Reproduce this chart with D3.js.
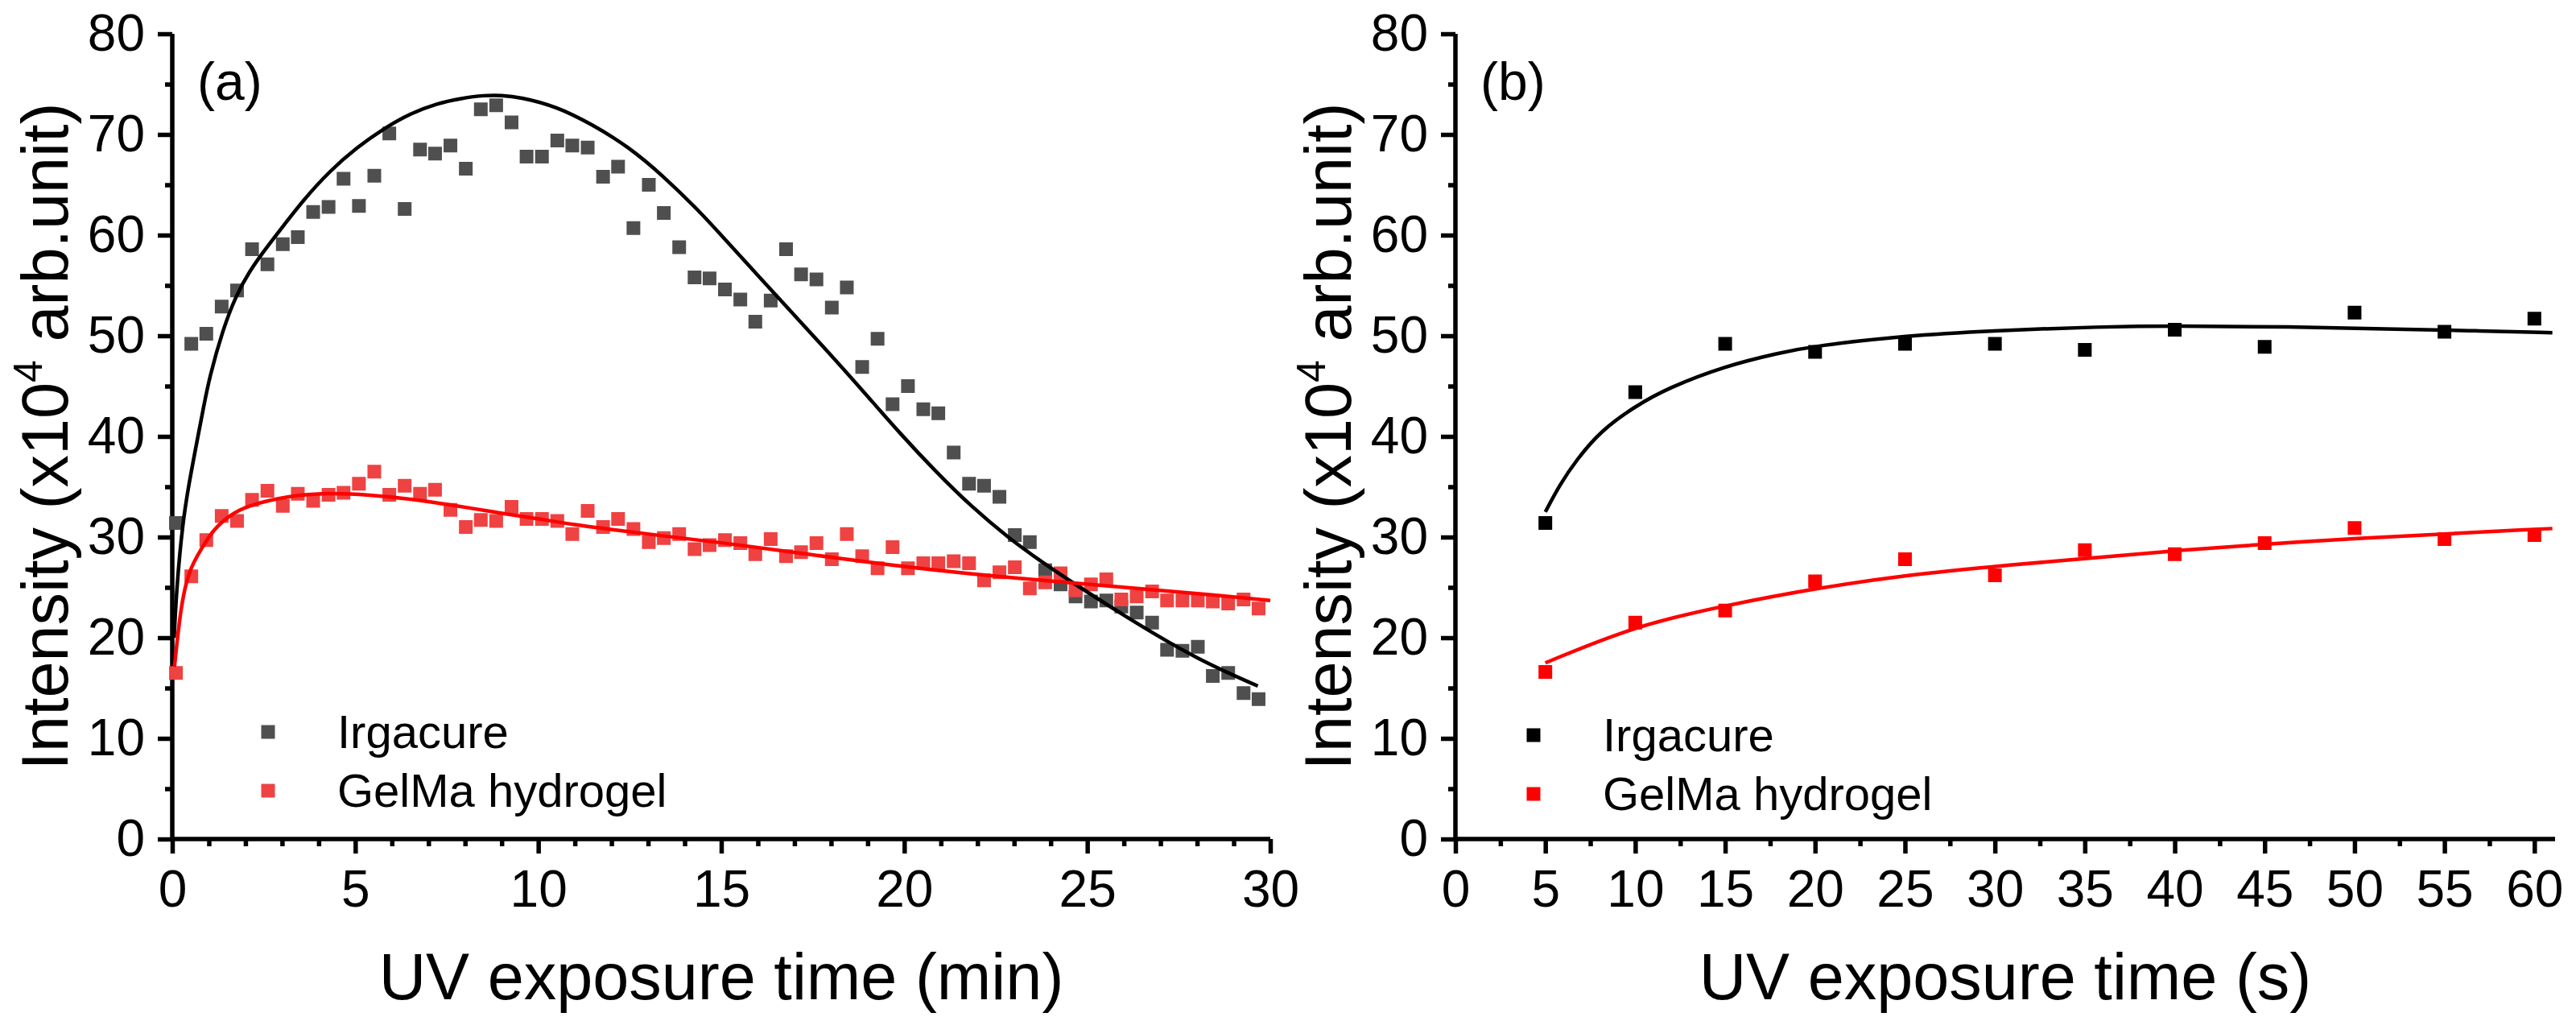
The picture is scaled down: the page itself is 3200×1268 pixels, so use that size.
<!DOCTYPE html>
<html>
<head>
<meta charset="utf-8">
<script src="https://cdn.jsdelivr.net/npm/d3@7"></script>
<style>
  body { margin: 0; background: #fff; }
  text { font-family: "Liberation Sans", Arial, sans-serif; fill: #000; }
</style>
</head>
<body>
<svg id="chart" width="3200" height="1268"></svg>
<script>
/// data ///
// panel (a): UV exposure time in minutes, one reading every 25 s
const timeMin = [
  0.10, 0.52, 0.93, 1.35, 1.77, 2.18, 2.60, 3.02, 3.43, 3.85,
  4.27, 4.68, 5.10, 5.52, 5.93, 6.35, 6.77, 7.18, 7.60, 8.02,
  8.43, 8.85, 9.27, 9.68, 10.10, 10.52, 10.93, 11.35, 11.77, 12.18,
  12.60, 13.02, 13.43, 13.85, 14.27, 14.68, 15.10, 15.52, 15.93, 16.35,
  16.77, 17.18, 17.60, 18.02, 18.43, 18.85, 19.27, 19.68, 20.10, 20.52,
  20.93, 21.35, 21.77, 22.18, 22.60, 23.02, 23.43, 23.85, 24.27, 24.68,
  25.10, 25.52, 25.93, 26.35, 26.77, 27.18, 27.60, 28.02, 28.43, 28.85,
  29.27, 29.68
];
const irgacureA = [
  31.4, 49.2, 50.2, 52.9, 54.5, 58.6, 57.1, 59.1, 59.8, 62.3,
  62.8, 65.6, 62.9, 65.9, 70.1, 62.6, 68.5, 68.1, 68.9, 66.6,
  72.5, 72.9, 71.2, 67.8, 67.8, 69.4, 68.9, 68.7, 65.8, 66.8,
  60.7, 65.0, 62.2, 58.8, 55.8, 55.7, 54.6, 53.6, 51.4, 53.5,
  58.6, 56.1, 55.6, 52.8, 54.8, 46.9, 49.7, 43.2, 45.0, 42.7,
  42.3, 38.4, 35.3, 35.1, 34.0, 30.2, 29.5, 26.7, 25.3, 24.1,
  23.6, 23.7, 23.1, 22.5, 21.5, 18.8, 18.7, 19.1, 16.2, 16.5,
  14.5, 13.9
];
const gelmaA = [
  16.5, 26.1, 29.7, 32.1, 31.6, 33.7, 34.6, 33.1, 34.3, 33.6,
  34.2, 34.4, 35.3, 36.5, 34.2, 35.1, 34.3, 34.7, 32.7, 31.0,
  31.7, 31.6, 33.0, 31.8, 31.8, 31.6, 30.3, 32.6, 31.0, 31.8,
  30.8, 29.5, 29.9, 30.3, 28.8, 29.2, 29.7, 29.4, 28.3, 29.8,
  28.1, 28.5, 29.4, 27.8, 30.3, 28.1, 26.9, 29.0, 26.9, 27.4,
  27.4, 27.6, 27.4, 25.7, 26.5, 27.0, 24.9, 25.5, 26.4, 24.7,
  25.3, 25.8, 23.8, 24.1, 24.6, 23.7, 23.7, 23.7, 23.6, 23.4,
  23.8, 22.9
];
// fitted curves of panel (a)
const irgacureFitAx = [0.05, 0.12, 0.28, 0.45, 0.68, 0.85, 1.01, 1.38, 1.74, 2.11, 2.48, 2.84, 3.58, 4.31, 5.04, 5.78, 6.51, 7.24, 7.9, 8.53, 9.0, 9.51, 10.49, 11.47, 12.46, 13.44, 14.42, 14.97, 15.95, 16.93, 17.92, 18.9, 19.88, 20.86, 21.84, 22.82, 23.8, 24.67, 26.35, 28.04, 29.66];
const irgacureFitAy = [20.0, 25.0, 31.3, 35.2, 39.6, 42.8, 45.8, 50.6, 54.0, 56.4, 58.3, 60.0, 63.5, 66.4, 68.7, 70.6, 72.1, 73.1, 73.6, 73.9, 73.9, 73.7, 72.8, 71.0, 68.8, 65.8, 62.3, 60.1, 56.2, 52.3, 48.4, 44.4, 40.3, 36.5, 33.0, 30.0, 27.4, 25.3, 21.4, 17.8, 15.2];
const gelmaFitAx = [0.06, 0.23, 0.45, 0.79, 1.13, 1.58, 2.03, 3.15, 4.27, 5.39, 6.51, 7.63, 8.75, 9.87, 11.0, 12.12, 13.2, 15.13, 17.37, 19.62, 21.86, 24.1, 26.35, 28.6, 30.0];
const gelmaFitAy = [17.1, 23.1, 26.7, 28.8, 30.8, 32.2, 33.1, 34.1, 34.4, 34.2, 33.8, 33.2, 32.5, 31.9, 31.2, 30.7, 30.2, 29.4, 28.3, 27.2, 26.3, 25.6, 24.9, 24.2, 23.7];

// panel (b): UV exposure time in seconds
const timeSec = [5, 10, 15, 20, 25, 30, 35, 40, 45, 50, 55, 60];
const irgacureB = [31.4, 44.4, 49.2, 48.4, 49.2, 49.2, 48.6, 50.6, 48.9, 52.3, 50.4, 51.7];
const gelmaB = [16.6, 21.5, 22.7, 25.6, 27.8, 26.2, 28.7, 28.3, 29.4, 30.9, 29.8, 30.2];
const irgacureFitBx = [5, 5.8, 6.7, 8.1, 10, 11.8, 15, 18, 20, 25, 29.7, 35.9, 40, 46.3, 52.6, 56.7, 61];
const irgacureFitBy = [32.5, 35.2, 37.6, 40.6, 43.0, 44.8, 47.0, 48.3, 49.0, 50.0, 50.5, 50.9, 51.0, 50.9, 50.65, 50.5, 50.3];
const gelmaFitBx = [5, 10, 15, 20, 25, 30, 40, 50, 61];
const gelmaFitBy = [17.5, 21.2, 23.2, 24.9, 26.2, 27.1, 28.7, 29.9, 30.85];

const seriesNames = ["Irgacure", "GelMa hydrogel"];

/// constants ///
const axisWidth = 5.5;
const majorTick = 18;
const minorTick = 9;
const markerSize = 17;
const fitWidth = 4.5;
const tickFont = 64;
const titleFont = 81;
const legendFont = 58;

const svg = d3.select("#chart");

// shared y scale
const yScale = d3.scaleLinear().domain([0, 80]).range([1042, 42]);

function zip(xs, ys) { return xs.map((x, i) => ({ x: x, y: ys[i] })); }

function drawPanel(p) {
  const xScale = d3.scaleLinear().domain(p.xDomain).range(p.xRange);
  const g = svg.append("g");
  const x0 = p.xRange[0];
  const y0 = yScale.range()[0];

  // minor ticks
  const xMinor = d3.range(p.xDomain[0], p.xDomain[1] + 1e-6, p.minorStep)
    .filter(v => Math.abs(v / p.majorStep - Math.round(v / p.majorStep)) > 1e-6);
  g.append("g")
    .attr("transform", `translate(0,${y0})`)
    .call(d3.axisBottom(xScale).tickValues(xMinor).tickSize(minorTick).tickFormat(""))
    .call(a => a.select(".domain").remove())
    .call(a => a.selectAll("line").attr("stroke", "#000").attr("stroke-width", axisWidth));

  g.append("g")
    .attr("transform", `translate(${x0},0)`)
    .call(d3.axisLeft(yScale).tickValues(d3.range(5, 80, 10)).tickSize(minorTick).tickFormat(""))
    .call(a => a.select(".domain").remove())
    .call(a => a.selectAll("line").attr("stroke", "#000").attr("stroke-width", axisWidth));

  // major ticks with labels
  g.append("g")
    .attr("transform", `translate(0,${y0})`)
    .call(d3.axisBottom(xScale).tickValues(p.majorTicks).tickSize(majorTick).tickPadding(21).tickFormat(d3.format("d")))
    .call(a => a.select(".domain").remove())
    .call(a => a.selectAll("line").attr("stroke", "#000").attr("stroke-width", axisWidth))
    .call(a => a.selectAll("text")
      .attr("font-size", tickFont)
      .style("font-family", '"Liberation Sans", Arial, sans-serif')
      .attr("fill", "#000"));

  g.append("g")
    .attr("transform", `translate(${x0},0)`)
    .call(d3.axisLeft(yScale).tickValues(d3.range(0, 81, 10)).tickSize(majorTick).tickPadding(16).tickFormat(d3.format("d")))
    .call(a => a.select(".domain").remove())
    .call(a => a.selectAll("line").attr("stroke", "#000").attr("stroke-width", axisWidth))
    .call(a => a.selectAll("text")
      .attr("font-size", tickFont)
      .style("font-family", '"Liberation Sans", Arial, sans-serif')
      .attr("fill", "#000"));

  // axis lines
  g.append("path")
    .attr("d", `M${x0},${yScale(80)}V${y0}H${p.xRange[1]}`)
    .attr("fill", "none")
    .attr("stroke", "#000")
    .attr("stroke-width", axisWidth)
    .attr("stroke-linejoin", "miter");

  // markers (black series first, red on top)
  p.markers.forEach(m => {
    g.append("g").selectAll("rect")
      .data(zip(m.x, m.y))
      .join("rect")
        .attr("x", d => xScale(d.x) - markerSize / 2)
        .attr("y", d => yScale(d.y) - markerSize / 2)
        .attr("width", markerSize)
        .attr("height", markerSize)
        .attr("fill", m.color);
  });

  // fitted curves, smoothed through the read-off points
  const line = d3.line()
    .x(d => xScale(d.x))
    .y(d => yScale(d.y))
    .curve(d3.curveBasis);
  p.fits.forEach(f => {
    g.append("path")
      .datum(zip(f.x, f.y))
      .attr("d", line)
      .attr("fill", "none")
      .attr("stroke", f.color)
      .attr("stroke-width", fitWidth)
      .attr("stroke-linejoin", "round");
  });

  // legend
  p.markers.forEach((m, i) => {
    const ly = p.legend.y + i * 73;
    g.append("rect")
      .attr("x", p.legend.x - markerSize / 2)
      .attr("y", ly - markerSize / 2)
      .attr("width", markerSize)
      .attr("height", markerSize)
      .attr("fill", m.color);
    g.append("text")
      .attr("x", p.legend.x + 86)
      .attr("y", ly + 20)
      .attr("font-size", legendFont)
      .text(seriesNames[i]);
  });

  // panel label
  g.append("text")
    .attr("x", x0 + 31)
    .attr("y", 124)
    .attr("font-size", 66)
    .text(p.label);

  // x title
  g.append("text")
    .attr("x", (p.xRange[0] + p.xRange[1]) / 2)
    .attr("y", 1241)
    .attr("text-anchor", "middle")
    .attr("font-size", titleFont)
    .text(p.xTitle);

  // y title
  const yt = g.append("text")
    .attr("transform", `translate(${x0 - 130},${(yScale(0) + yScale(80)) / 2}) rotate(-90)`)
    .attr("text-anchor", "middle")
    .attr("font-size", titleFont);
  yt.append("tspan").text("Intensity (x10");
  yt.append("tspan").attr("font-size", 50).attr("dy", -32).text("4");
  yt.append("tspan").attr("dy", 32).text(" arb.unit)");
}

drawPanel({
  label: "(a)",
  xDomain: [0, 30],
  xRange: [214, 1578],
  majorStep: 5,
  minorStep: 1,
  majorTicks: d3.range(0, 31, 5),
  xTitle: "UV exposure time (min)",
  markers: [
    { x: timeMin, y: irgacureA, color: "#4f4f4f" },
    { x: timeMin, y: gelmaA, color: "#ef4242" }
  ],
  fits: [
    { x: irgacureFitAx, y: irgacureFitAy, color: "#000" },
    { x: gelmaFitAx, y: gelmaFitAy, color: "#ff0000" }
  ],
  legend: { x: 333, y: 909 }
});

drawPanel({
  label: "(b)",
  xDomain: [0, 61.15],
  xRange: [1808, 3174],
  majorStep: 5,
  minorStep: 2.5,
  majorTicks: d3.range(0, 61, 5),
  xTitle: "UV exposure time (s)",
  markers: [
    { x: timeSec, y: irgacureB, color: "#000" },
    { x: timeSec, y: gelmaB, color: "#ff0000" }
  ],
  fits: [
    { x: irgacureFitBx, y: irgacureFitBy, color: "#000" },
    { x: gelmaFitBx, y: gelmaFitBy, color: "#ff0000" }
  ],
  legend: { x: 1905, y: 913 }
});
</script>
</body>
</html>
